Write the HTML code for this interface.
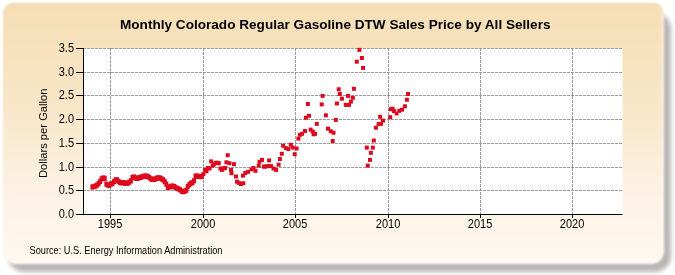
<!DOCTYPE html>
<html><head><meta charset="utf-8"><style>
html,body{margin:0;padding:0;background:#fff;width:675px;height:275px;overflow:hidden;}
.shadow{position:absolute;left:8px;top:12.5px;width:662.5px;height:259px;border-radius:16px;background:rgba(50,45,40,0.34);filter:blur(2px);}
.panel{position:absolute;left:3px;top:3px;width:661px;height:261px;border-radius:10px 10px 13px 13px;
background:linear-gradient(to bottom,#f6dfb5 0%,#f8e6c8 40%,#fdf3e6 75%,#fef8ef 100%);
box-shadow:inset -2px -2px 1.5px rgba(255,255,255,0.6),inset 0 1px 1px rgba(90,80,50,0.12);filter:blur(1px);}
svg{position:absolute;left:0;top:0;will-change:transform;}
text{font-family:"Liberation Sans",sans-serif;fill:#000;}
</style></head><body>
<div class="shadow"></div><div class="panel"></div>
<svg width="675" height="275" viewBox="0 0 675 275">
<rect x="83" y="48" width="539.5" height="166" fill="#fff"/>
<g stroke="#999" stroke-width="1" stroke-dasharray="3,1" fill="none"><line x1="83" y1="190.5" x2="622.5" y2="190.5"/><line x1="83" y1="167.5" x2="622.5" y2="167.5"/><line x1="83" y1="143.5" x2="622.5" y2="143.5"/><line x1="83" y1="119.5" x2="622.5" y2="119.5"/><line x1="83" y1="95.5" x2="622.5" y2="95.5"/><line x1="83" y1="72.5" x2="622.5" y2="72.5"/><line x1="83" y1="48.5" x2="622.5" y2="48.5"/><line x1="110.5" y1="48" x2="110.5" y2="214"/><line x1="203.5" y1="48" x2="203.5" y2="214"/><line x1="295.5" y1="48" x2="295.5" y2="214"/><line x1="388.5" y1="48" x2="388.5" y2="214"/><line x1="480.5" y1="48" x2="480.5" y2="214"/><line x1="572.5" y1="48" x2="572.5" y2="214"/></g>
<g stroke="#000" stroke-width="1" fill="none"><line x1="76" y1="214.5" x2="83.5" y2="214.5"/><line x1="76" y1="190.5" x2="83.5" y2="190.5"/><line x1="76" y1="167.5" x2="83.5" y2="167.5"/><line x1="76" y1="143.5" x2="83.5" y2="143.5"/><line x1="76" y1="119.5" x2="83.5" y2="119.5"/><line x1="76" y1="95.5" x2="83.5" y2="95.5"/><line x1="76" y1="72.5" x2="83.5" y2="72.5"/><line x1="76" y1="48.5" x2="83.5" y2="48.5"/><line x1="110.5" y1="214" x2="110.5" y2="218"/><line x1="203.5" y1="214" x2="203.5" y2="218"/><line x1="295.5" y1="214" x2="295.5" y2="218"/><line x1="388.5" y1="214" x2="388.5" y2="218"/><line x1="480.5" y1="214" x2="480.5" y2="218"/><line x1="572.5" y1="214" x2="572.5" y2="218"/>
<line x1="83.5" y1="48" x2="83.5" y2="214.5"/><line x1="83" y1="214.5" x2="622.5" y2="214.5"/></g>
<g fill="#dc0a1e"><rect x="90.4" y="184.4" width="4.0" height="5.2"/><rect x="91.9" y="183.9" width="4.0" height="5.2"/><rect x="93.5" y="183.4" width="4.0" height="5.2"/><rect x="95.0" y="182.5" width="4.0" height="5.2"/><rect x="96.6" y="181.0" width="4.0" height="5.2"/><rect x="98.1" y="178.9" width="4.0" height="5.2"/><rect x="99.6" y="176.3" width="4.0" height="5.2"/><rect x="101.2" y="175.4" width="4.0" height="5.2"/><rect x="102.7" y="175.8" width="4.0" height="5.2"/><rect x="104.3" y="181.5" width="4.0" height="5.2"/><rect x="105.8" y="182.5" width="4.0" height="5.2"/><rect x="107.3" y="182.9" width="4.0" height="5.2"/><rect x="108.9" y="181.5" width="4.0" height="5.2"/><rect x="110.4" y="181.0" width="4.0" height="5.2"/><rect x="112.0" y="179.1" width="4.0" height="5.2"/><rect x="113.5" y="177.3" width="4.0" height="5.2"/><rect x="115.0" y="177.3" width="4.0" height="5.2"/><rect x="116.6" y="178.7" width="4.0" height="5.2"/><rect x="118.1" y="180.1" width="4.0" height="5.2"/><rect x="119.6" y="180.1" width="4.0" height="5.2"/><rect x="121.2" y="180.1" width="4.0" height="5.2"/><rect x="122.7" y="180.6" width="4.0" height="5.2"/><rect x="124.3" y="180.6" width="4.0" height="5.2"/><rect x="125.8" y="180.6" width="4.0" height="5.2"/><rect x="127.3" y="179.6" width="4.0" height="5.2"/><rect x="128.9" y="178.2" width="4.0" height="5.2"/><rect x="130.4" y="174.9" width="4.0" height="5.2"/><rect x="132.0" y="174.4" width="4.0" height="5.2"/><rect x="133.5" y="175.4" width="4.0" height="5.2"/><rect x="135.0" y="175.8" width="4.0" height="5.2"/><rect x="136.6" y="175.4" width="4.0" height="5.2"/><rect x="138.1" y="174.9" width="4.0" height="5.2"/><rect x="139.6" y="174.4" width="4.0" height="5.2"/><rect x="141.2" y="173.9" width="4.0" height="5.2"/><rect x="142.7" y="173.5" width="4.0" height="5.2"/><rect x="144.3" y="173.5" width="4.0" height="5.2"/><rect x="145.8" y="173.9" width="4.0" height="5.2"/><rect x="147.3" y="174.9" width="4.0" height="5.2"/><rect x="148.9" y="176.3" width="4.0" height="5.2"/><rect x="150.4" y="176.8" width="4.0" height="5.2"/><rect x="152.0" y="176.8" width="4.0" height="5.2"/><rect x="153.5" y="176.3" width="4.0" height="5.2"/><rect x="155.0" y="175.4" width="4.0" height="5.2"/><rect x="156.6" y="175.4" width="4.0" height="5.2"/><rect x="158.1" y="175.4" width="4.0" height="5.2"/><rect x="159.7" y="176.3" width="4.0" height="5.2"/><rect x="161.2" y="177.3" width="4.0" height="5.2"/><rect x="162.7" y="179.1" width="4.0" height="5.2"/><rect x="164.3" y="181.5" width="4.0" height="5.2"/><rect x="165.8" y="184.8" width="4.0" height="5.2"/><rect x="167.3" y="184.4" width="4.0" height="5.2"/><rect x="168.9" y="183.9" width="4.0" height="5.2"/><rect x="170.4" y="183.4" width="4.0" height="5.2"/><rect x="172.0" y="183.9" width="4.0" height="5.2"/><rect x="173.5" y="184.8" width="4.0" height="5.2"/><rect x="175.0" y="185.8" width="4.0" height="5.2"/><rect x="176.6" y="186.3" width="4.0" height="5.2"/><rect x="178.1" y="187.2" width="4.0" height="5.2"/><rect x="179.7" y="188.6" width="4.0" height="5.2"/><rect x="181.2" y="189.1" width="4.0" height="5.2"/><rect x="182.7" y="188.6" width="4.0" height="5.2"/><rect x="184.3" y="187.7" width="4.0" height="5.2"/><rect x="185.8" y="183.9" width="4.0" height="5.2"/><rect x="187.4" y="182.0" width="4.0" height="5.2"/><rect x="188.9" y="180.6" width="4.0" height="5.2"/><rect x="190.4" y="180.1" width="4.0" height="5.2"/><rect x="192.0" y="178.2" width="4.0" height="5.2"/><rect x="193.5" y="173.5" width="4.0" height="5.2"/><rect x="195.0" y="173.5" width="4.0" height="5.2"/><rect x="196.6" y="173.9" width="4.0" height="5.2"/><rect x="198.1" y="173.9" width="4.0" height="5.2"/><rect x="199.7" y="173.9" width="4.0" height="5.2"/><rect x="201.4" y="172.2" width="4.0" height="4.0"/><rect x="203.0" y="167.9" width="4.0" height="4.0"/><rect x="204.5" y="169.3" width="4.0" height="4.0"/><rect x="206.0" y="166.0" width="4.0" height="4.0"/><rect x="207.6" y="166.5" width="4.0" height="4.0"/><rect x="209.1" y="159.4" width="4.0" height="4.0"/><rect x="210.7" y="163.6" width="4.0" height="4.0"/><rect x="212.2" y="162.2" width="4.0" height="4.0"/><rect x="213.8" y="160.8" width="4.0" height="4.0"/><rect x="215.3" y="160.8" width="4.0" height="4.0"/><rect x="216.8" y="161.2" width="4.0" height="4.0"/><rect x="218.4" y="166.5" width="4.0" height="4.0"/><rect x="219.9" y="167.9" width="4.0" height="4.0"/><rect x="221.5" y="166.5" width="4.0" height="4.0"/><rect x="223.0" y="166.0" width="4.0" height="4.0"/><rect x="224.4" y="160.3" width="4.0" height="4.0"/><rect x="225.7" y="153.2" width="4.0" height="4.0"/><rect x="227.5" y="161.2" width="4.0" height="4.0"/><rect x="229.0" y="167.9" width="4.0" height="4.0"/><rect x="229.5" y="171.2" width="4.0" height="4.0"/><rect x="232.0" y="162.2" width="4.0" height="4.0"/><rect x="234.0" y="174.5" width="4.0" height="4.0"/><rect x="235.0" y="179.7" width="4.0" height="4.0"/><rect x="236.8" y="180.9" width="4.0" height="4.0"/><rect x="239.0" y="182.1" width="4.0" height="4.0"/><rect x="241.3" y="181.2" width="4.0" height="4.0"/><rect x="241.0" y="173.6" width="4.0" height="4.0"/><rect x="243.3" y="171.0" width="4.0" height="4.0"/><rect x="246.0" y="169.8" width="4.0" height="4.0"/><rect x="249.5" y="167.4" width="4.0" height="4.0"/><rect x="251.5" y="166.0" width="4.0" height="4.0"/><rect x="253.5" y="168.8" width="4.0" height="4.0"/><rect x="256.7" y="163.6" width="4.0" height="4.0"/><rect x="257.5" y="159.8" width="4.0" height="4.0"/><rect x="260.0" y="157.9" width="4.0" height="4.0"/><rect x="262.0" y="164.6" width="4.0" height="4.0"/><rect x="263.3" y="164.6" width="4.0" height="4.0"/><rect x="265.8" y="164.1" width="4.0" height="4.0"/><rect x="267.1" y="158.4" width="4.0" height="4.0"/><rect x="269.0" y="164.1" width="4.0" height="4.0"/><rect x="271.5" y="166.5" width="4.0" height="4.0"/><rect x="274.1" y="167.9" width="4.0" height="4.0"/><rect x="276.6" y="162.7" width="4.0" height="4.0"/><rect x="277.9" y="157.0" width="4.0" height="4.0"/><rect x="279.8" y="151.8" width="4.0" height="4.0"/><rect x="281.1" y="143.7" width="4.0" height="4.0"/><rect x="283.8" y="146.1" width="4.0" height="4.0"/><rect x="286.3" y="147.0" width="4.0" height="4.0"/><rect x="288.8" y="142.8" width="4.0" height="4.0"/><rect x="290.8" y="145.6" width="4.0" height="4.0"/><rect x="292.7" y="152.2" width="4.0" height="4.0"/><rect x="294.6" y="146.5" width="4.0" height="4.0"/><rect x="296.4" y="136.6" width="4.0" height="4.0"/><rect x="297.9" y="132.8" width="4.0" height="4.0"/><rect x="300.1" y="131.8" width="4.0" height="4.0"/><rect x="303.0" y="129.0" width="4.0" height="4.0"/><rect x="303.9" y="115.7" width="4.0" height="4.0"/><rect x="305.9" y="102.0" width="4.0" height="4.0"/><rect x="307.0" y="113.8" width="4.0" height="4.0"/><rect x="308.6" y="127.6" width="4.0" height="4.0"/><rect x="310.8" y="129.5" width="4.0" height="4.0"/><rect x="311.6" y="132.3" width="4.0" height="4.0"/><rect x="313.1" y="131.8" width="4.0" height="4.0"/><rect x="314.8" y="121.9" width="4.0" height="4.0"/><rect x="319.7" y="102.4" width="4.0" height="4.0"/><rect x="320.6" y="93.9" width="4.0" height="4.0"/><rect x="323.9" y="113.3" width="4.0" height="4.0"/><rect x="326.0" y="126.6" width="4.0" height="4.0"/><rect x="328.7" y="129.2" width="4.0" height="4.0"/><rect x="331.5" y="130.7" width="4.0" height="4.0"/><rect x="330.7" y="139.0" width="4.0" height="4.0"/><rect x="333.8" y="117.9" width="4.0" height="4.0"/><rect x="334.9" y="101.5" width="4.0" height="4.0"/><rect x="336.7" y="87.3" width="4.0" height="4.0"/><rect x="337.8" y="92.0" width="4.0" height="4.0"/><rect x="339.9" y="96.7" width="4.0" height="4.0"/><rect x="343.8" y="102.9" width="4.0" height="4.0"/><rect x="346.0" y="93.9" width="4.0" height="4.0"/><rect x="347.0" y="102.9" width="4.0" height="4.0"/><rect x="348.9" y="99.6" width="4.0" height="4.0"/><rect x="350.8" y="95.8" width="4.0" height="4.0"/><rect x="351.9" y="86.8" width="4.0" height="4.0"/><rect x="354.8" y="59.7" width="4.0" height="4.0"/><rect x="357.4" y="47.9" width="4.0" height="4.0"/><rect x="359.9" y="56.0" width="4.0" height="4.0"/><rect x="361.0" y="65.9" width="4.0" height="4.0"/><rect x="364.8" y="145.6" width="4.0" height="4.0"/><rect x="365.7" y="163.6" width="4.0" height="4.0"/><rect x="368.0" y="157.9" width="4.0" height="4.0"/><rect x="368.9" y="150.8" width="4.0" height="4.0"/><rect x="370.8" y="145.6" width="4.0" height="4.0"/><rect x="371.8" y="138.5" width="4.0" height="4.0"/><rect x="373.9" y="125.7" width="4.0" height="4.0"/><rect x="376.6" y="122.1" width="4.0" height="4.0"/><rect x="378.1" y="114.8" width="4.0" height="4.0"/><rect x="379.0" y="121.9" width="4.0" height="4.0"/><rect x="381.0" y="118.6" width="4.0" height="4.0"/><rect x="388.2" y="115.2" width="4.0" height="4.0"/><rect x="388.8" y="107.2" width="4.0" height="4.0"/><rect x="390.6" y="106.7" width="4.0" height="4.0"/><rect x="392.0" y="109.1" width="4.0" height="4.0"/><rect x="394.6" y="111.4" width="4.0" height="4.0"/><rect x="397.3" y="108.8" width="4.0" height="4.0"/><rect x="400.0" y="107.7" width="4.0" height="4.0"/><rect x="402.9" y="104.3" width="4.0" height="4.0"/><rect x="404.9" y="97.7" width="4.0" height="4.0"/><rect x="406.0" y="92.0" width="4.0" height="4.0"/></g>
<g font-size="12.5" text-anchor="end"><text transform="translate(74,218.3) scale(0.88,1)">0.0</text><text transform="translate(74,194.3) scale(0.88,1)">0.5</text><text transform="translate(74,171.3) scale(0.88,1)">1.0</text><text transform="translate(74,147.3) scale(0.88,1)">1.5</text><text transform="translate(74,123.3) scale(0.88,1)">2.0</text><text transform="translate(74,99.3) scale(0.88,1)">2.5</text><text transform="translate(74,76.3) scale(0.88,1)">3.0</text><text transform="translate(74,52.3) scale(0.88,1)">3.5</text></g>
<g font-size="12.5" text-anchor="middle"><text transform="translate(110.1,228) scale(0.88,1)">1995</text><text transform="translate(203.1,228) scale(0.88,1)">2000</text><text transform="translate(295.1,228) scale(0.88,1)">2005</text><text transform="translate(388.1,228) scale(0.88,1)">2010</text><text transform="translate(480.1,228) scale(0.88,1)">2015</text><text transform="translate(572.1,228) scale(0.88,1)">2020</text></g>
<text x="120" y="28.8" font-size="13.5" font-weight="bold" textLength="430.5" lengthAdjust="spacingAndGlyphs">Monthly Colorado Regular Gasoline DTW Sales Price by All Sellers</text>
<text transform="translate(47,133.3) rotate(-90)" font-size="11.2" text-anchor="middle">Dollars per Gallon</text>
<text x="29.5" y="253.5" font-size="10.5" textLength="193" lengthAdjust="spacingAndGlyphs">Source: U.S. Energy Information Administration</text>
</svg>
</body></html>
